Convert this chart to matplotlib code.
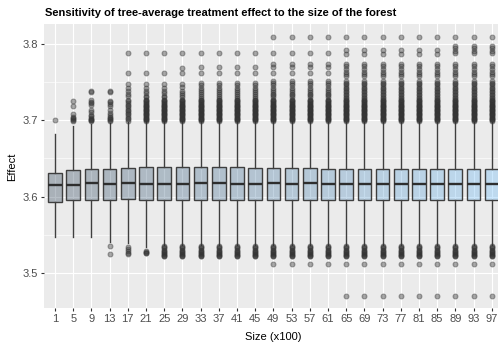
import matplotlib
matplotlib.use("Agg")
import matplotlib.pyplot as plt
import numpy as np
from matplotlib.colors import to_rgb

plt.rcParams["font.family"] = ["Liberation Sans", "DejaVu Sans"]

# Forest sizes (x100)
sizes = [1, 5, 9, 13, 17, 21, 25, 29, 33, 37, 41, 45, 49, 53, 57, 61, 65, 69, 73, 77, 81, 85, 89, 93, 97]

# Box summaries of the tree-average treatment effect
q1 = [3.5927, 3.5953, 3.5953, 3.5953, 3.5966, 3.5957, 3.5957, 3.5957, 3.5957, 3.5957, 3.5957, 3.5955, 3.5955,
      3.5955, 3.5955, 3.5953, 3.5953, 3.5953, 3.5953, 3.5953, 3.5953, 3.5953, 3.5953, 3.5953, 3.5953]
medians = [3.6149, 3.6149, 3.6179, 3.6166, 3.6180, 3.6162, 3.6165, 3.6165, 3.6181, 3.6181, 3.6163, 3.6166, 3.6180,
           3.6170, 3.6180, 3.6166, 3.6166, 3.6166, 3.6166, 3.6166, 3.6166, 3.6166, 3.6166, 3.6166, 3.6166]
q3 = [3.6313, 3.6345, 3.6358, 3.6360, 3.6380, 3.6384, 3.6384, 3.6384, 3.6384, 3.6384, 3.6384, 3.6380, 3.6380,
      3.6380, 3.6380, 3.6368, 3.6368, 3.6368, 3.6368, 3.6368, 3.6368, 3.6368, 3.6368, 3.6368, 3.6368]
whisker_low = [3.5478, 3.5480, 3.5480, 3.5410, 3.5390, 3.5340, 3.5370, 3.5370, 3.5370, 3.5370, 3.5370, 3.5370,
               3.5370, 3.5370, 3.5370, 3.5370, 3.5370, 3.5370, 3.5370, 3.5370, 3.5370, 3.5370, 3.5370, 3.5370, 3.5370]
whisker_high = [3.6819, 3.6925, 3.6950, 3.6960, 3.6975, 3.6985, 3.6985, 3.6985, 3.6985, 3.6985, 3.6985, 3.6985,
                3.6985, 3.6985, 3.6985, 3.6980, 3.6980, 3.6980, 3.6980, 3.6980, 3.6980, 3.6980, 3.6980, 3.6980, 3.6980]

# Outlying effects above the upper whisker
upper_core = [3.6995, 3.7005, 3.7012, 3.7021, 3.7033, 3.7040, 3.7052, 3.7061, 3.7074, 3.7083, 3.7096, 3.7104,
              3.7117, 3.7129, 3.7138, 3.7146, 3.7159, 3.7167, 3.7178, 3.7190, 3.7201, 3.7213, 3.7222, 3.7236,
              3.7245, 3.7258, 3.7266]
upper_1 = [3.6996]
upper_5 = [3.7250, 3.7183, 3.7075, 3.7040, 3.7028, 3.7017, 3.7006, 3.6995]
upper_9 = [3.7380, 3.7362, 3.7262, 3.7243, 3.7221, 3.7192, 3.7131, 3.7102, 3.7071, 3.7052, 3.7031, 3.7019,
           3.7008, 3.7001, 3.6993]
upper_13 = [3.7380, 3.7361, 3.7251, 3.7232, 3.7213, 3.7183, 3.7132, 3.7093, 3.7062, 3.7041, 3.7022, 3.7011,
            3.7003, 3.6995]
upper_17 = [3.7870, 3.7620, 3.7470, 3.7420, 3.7380, 3.7340, 3.7310] + upper_core[::2]
upper_21_29 = [3.7870, 3.7620, 3.7470, 3.7425, 3.7382, 3.7348, 3.7321, 3.7296] + upper_core
upper_29 = [3.7870, 3.7686, 3.7620, 3.7470, 3.7430, 3.7385, 3.7350, 3.7322, 3.7296] + upper_core
upper_33_45 = [3.7870, 3.7690, 3.7620, 3.7490, 3.7465, 3.7420, 3.7392, 3.7368, 3.7341, 3.7318, 3.7294] + upper_core
upper_49_61 = [3.8080, 3.7870, 3.7738, 3.7690, 3.7620, 3.7510, 3.7488, 3.7455, 3.7425, 3.7398, 3.7372, 3.7347,
               3.7322, 3.7296] + upper_core
upper_65_85 = [3.8080, 3.7918, 3.7862, 3.7735, 3.7702, 3.7668, 3.7630, 3.7601, 3.7580, 3.7510, 3.7490, 3.7468,
               3.7449, 3.7425, 3.7402, 3.7381, 3.7362, 3.7341, 3.7322, 3.7305, 3.7290] + upper_core
upper_89_97 = [3.8080, 3.7970, 3.7940, 3.7905, 3.7873, 3.7735, 3.7702, 3.7668, 3.7630, 3.7601, 3.7580, 3.7510,
               3.7490, 3.7468, 3.7449, 3.7425, 3.7402, 3.7381, 3.7362, 3.7341, 3.7322, 3.7305, 3.7290] + upper_core

# Outlying effects below the lower whisker
lower_core = [3.5350, 3.5338, 3.5325, 3.5310, 3.5297, 3.5284, 3.5270, 3.5258, 3.5245, 3.5232, 3.5220]
lower_13 = [3.5350, 3.5255]
lower_17 = [3.5345, 3.5312, 3.5290, 3.5270, 3.5252]
lower_21 = [3.5292, 3.5280, 3.5270, 3.5260]
lower_49_61 = lower_core + [3.5117]
lower_65_97 = lower_core + [3.5117, 3.4708]

upper_outliers = ([upper_1, upper_5, upper_9, upper_13, upper_17, upper_21_29, upper_21_29, upper_29]
                  + [upper_33_45] * 4 + [upper_49_61] * 4 + [upper_65_85] * 6 + [upper_89_97] * 3)
lower_outliers = ([[], [], [], lower_13, lower_17, lower_21] + [lower_core] * 6
                  + [lower_49_61] * 4 + [lower_65_97] * 9)

stats = []
for i, s in enumerate(sizes):
    stats.append(dict(label=str(s), q1=q1[i], med=medians[i], q3=q3[i],
                      whislo=whisker_low[i], whishi=whisker_high[i],
                      fliers=np.array(upper_outliers[i] + lower_outliers[i])))

fig = plt.figure(figsize=(4.98, 3.47), dpi=100)
W, H = 498, 347
ax = fig.add_axes([44 / W, 39 / H, (498 - 44) / W, 284 / H])
ax.set_facecolor("#EBEBEB")

positions = np.arange(1, len(sizes) + 1)
edge = "#3f3f3f"
bp = ax.bxp(stats, positions=positions, widths=0.75, patch_artist=True, showcaps=False,
            boxprops=dict(edgecolor=edge, linewidth=1.0),
            medianprops=dict(color="#2e2e2e", linewidth=1.7),
            whiskerprops=dict(color=edge, linewidth=1.0),
            flierprops=dict(marker="o", markersize=3.6, markerfacecolor=(0.2, 0.2, 0.2, 0.42),
                            markeredgecolor=(0.2, 0.2, 0.2, 0.42), markeredgewidth=0.7, linestyle="none"),
            zorder=3)

# Continuous fill by forest size
lo_c = np.array(to_rgb("#132B43"))
hi_c = np.array(to_rgb("#56B1F7"))
for patch, s in zip(bp["boxes"], sizes):
    t = (s - min(sizes)) / (max(sizes) - min(sizes))
    c = lo_c + (hi_c - lo_c) * t
    patch.set_facecolor((*c, 0.3))

ax.set_xlim(0.396, 25.346)
ax.set_ylim(3.4547, 3.8255)
ax.set_xticks(positions)
ax.set_xticklabels([str(s) for s in sizes])
ax.set_yticks([3.5, 3.6, 3.7, 3.8])
ax.set_yticklabels(["3.5", "3.6", "3.7", "3.8"])
ax.set_yticks([3.55, 3.65, 3.75], minor=True)
ax.tick_params(axis="both", which="major", length=2.2, width=0.8, color="#333333",
               labelsize=8, labelcolor="#4D4D4D", pad=2.2)
ax.tick_params(axis="y", which="minor", length=0)
ax.grid(which="major", color="white", linewidth=0.85, zorder=0)
ax.grid(which="minor", axis="y", color="white", linewidth=0.45, zorder=0)
ax.set_axisbelow(True)
for sp in ax.spines.values():
    sp.set_visible(False)

fig.text(45 / W, 1 - 13.5 / H, "Sensitivity of tree-average treatment effect to the size of the forest",
         fontsize=8.0, fontweight="bold", ha="left", va="center", color="black")
fig.text(12.5 / W, 1 - 167 / H, "Effect", rotation=90, fontsize=8, ha="center", va="center", color="black")
fig.text(273.3 / W, 1 - 336.5 / H, "Size (x100)", fontsize=8, ha="center", va="center", color="black")

fig.savefig("out.png", dpi=100)
